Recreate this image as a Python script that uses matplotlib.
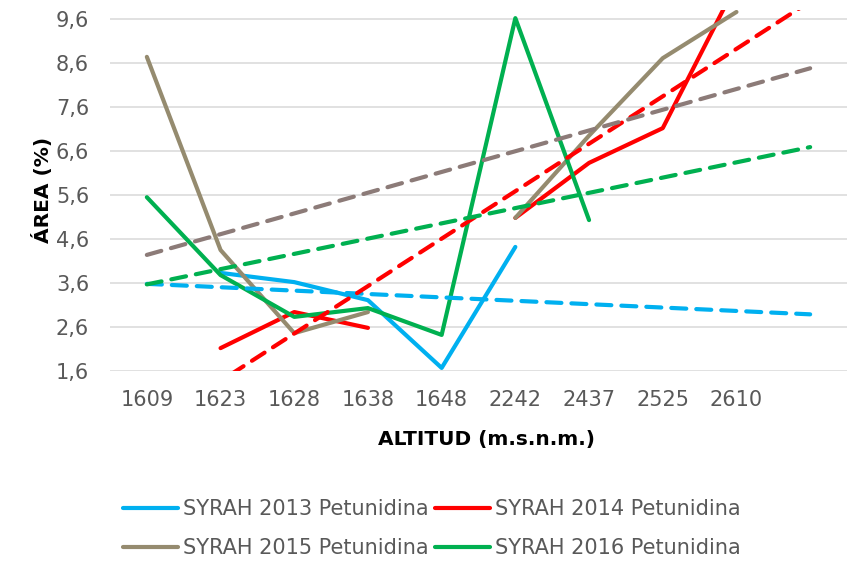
import matplotlib.pyplot as plt
import numpy as np

plt.rcParams['font.family'] = ['DejaVu Sans']

# Altitude categories (m.s.n.m.)
categories = ['1609', '1623', '1628', '1638', '1648', '2242', '2437', '2525', '2610']

# Petunidina area (%) per vintage, nan where no sample
syrah_2013 = [np.nan, 3.83, 3.62, 3.21, 1.67, 4.42, np.nan, np.nan, np.nan]
syrah_2014 = [np.nan, 2.12, 2.94, 2.58, np.nan, 5.08, 6.33, 7.12, 10.4]
syrah_2015 = [8.74, 4.35, 2.46, 2.94, np.nan, 5.08, 6.95, 8.71, 9.76]
syrah_2016 = [5.55, 3.78, 2.83, 3.03, 2.42, 9.62, 5.03, np.nan, np.nan]

series_labels = ['SYRAH 2013 Petunidina', 'SYRAH 2014 Petunidina',
                 'SYRAH 2015 Petunidina', 'SYRAH 2016 Petunidina']
yticks = [1.6, 2.6, 3.6, 4.6, 5.6, 6.6, 7.6, 8.6, 9.6]

line_colors = ['#00B0F0', '#FF0000', '#958B6F', '#00B050']
trend_colors = ['#00B0F0', '#FF0000', '#8C7B78', '#00B050']

fig = plt.figure(figsize=(8.52, 5.62), dpi=100)
ax = fig.add_axes([110 / 852, 191 / 562, 737 / 852, 361 / 562])

x = np.arange(len(categories))
all_series = [syrah_2013, syrah_2014, syrah_2015, syrah_2016]

handles = []
for vals, lab, c in zip(all_series, series_labels, line_colors):
    h, = ax.plot(x, vals, color=c, lw=3.0, label=lab,
                 solid_capstyle='round', solid_joinstyle='round', zorder=3)
    handles.append(h)

# linear trendlines like Excel (positions 1..n, forecast forward 1 period)
for vals, c in zip(all_series, trend_colors):
    v = np.array(vals, dtype=float)
    ok = ~np.isnan(v)
    slope, icpt = np.polyfit(x[ok] + 1, v[ok], 1)
    tx = np.array([0, len(categories)])
    ax.plot(tx, slope * (tx + 1) + icpt, color=c, lw=3.0, ls=(0, (3.6, 2.4)),
            dash_capstyle='round', label='_nolegend_', zorder=4)

ax.set_xlim(-0.5, len(categories) + 0.5)
ax.set_ylim(1.6, 9.805)
ax.set_xticks(np.arange(len(categories) + 1))
ax.set_xticklabels(categories + [''])
ax.set_yticks(yticks)
ax.set_yticklabels([('%.1f' % t).replace('.', ',') for t in yticks])
ax.tick_params(axis='both', length=0, labelsize=15, labelcolor='#595959')
ax.tick_params(axis='y', pad=15)
ax.tick_params(axis='x', pad=14)
ax.grid(axis='y', color='#D9D9D9', lw=1.1)
ax.set_axisbelow(True)
for s in ax.spines.values():
    s.set_visible(False)

fig.text(486 / 852, 1 - 440 / 562, 'ALTITUD (m.s.n.m.)', fontsize=14.5,
         fontweight='bold', ha='center', va='center')
fig.text(42 / 852, 1 - 190 / 562, 'ÁREA (%)', fontsize=14.5, fontweight='bold',
         rotation=90, ha='center', va='center')

# legend filled row by row: 2013, 2014 / 2015, 2016
order = [0, 2, 1, 3]
leg = fig.legend([handles[i] for i in order], [series_labels[i] for i in order],
                 loc='center', bbox_to_anchor=(432 / 852, 1 - 528.5 / 562),
                 ncol=2, frameon=False, fontsize=15, handlelength=2.64,
                 handletextpad=0.24, columnspacing=0.34, labelspacing=0.9,
                 borderpad=0, borderaxespad=0)
for t in leg.get_texts():
    t.set_color('#595959')

plt.savefig('out.png', dpi=100)
